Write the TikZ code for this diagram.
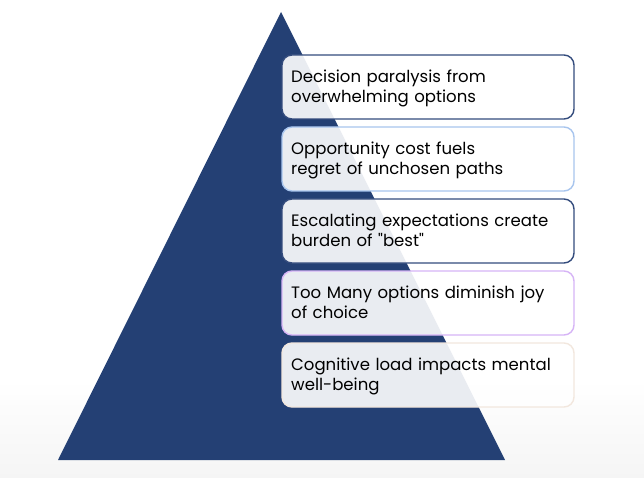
\documentclass[tikz,border=0pt]{standalone}
\usepackage{fontspec}
\setmainfont{Poppins}[Ligatures=TeXOff]
\usetikzlibrary{positioning}
\definecolor{navy}{RGB}{36,64,116}
\definecolor{bnavy}{RGB}{52,76,125}
\definecolor{blight}{RGB}{168,197,238}
\definecolor{blav}{RGB}{214,180,246}
\definecolor{bbeige}{RGB}{242,231,222}
\definecolor{bggray}{RGB}{245,245,245}
\tikzset{
  itembox/.style={draw=#1, line width=1.4bp, rounded corners=10bp, fill=white, fill opacity=0.9},
  itemtext/.style={anchor=base west, inner sep=0pt, text width=280bp, align=left, text=black,
    font=\fontsize{16.6}{20.5}\selectfont},
}
\begin{document}
\begin{tikzpicture}[x=1bp,y=-1bp]
\useasboundingbox (0,0) rectangle (644,478);
\shade[top color=white, bottom color=bggray] (0,380) rectangle (644,478);
\fill[white] (0,0) rectangle (644,380.5);
\fill[navy] (281,12) -- (505,460) -- (58,460) -- cycle;
\foreach \t/\c/\n [count=\i] in {55/bnavy/a,127/blight/b,199/bnavy/c,271/blav/d,343/bbeige/e}{
  \draw[itembox=\c] (282,\t) rectangle (574,\t+64);
}
\node[itemtext] (ta) at (291,82.5) {Decision paralysis from\\overwhelming options};
\node[itemtext] (tb) at (291,154.5) {Opportunity cost fuels\\regret of unchosen paths};
\node[itemtext] (tc) at (291,226.5) {Escalating expectations create\\burden of "best"};
\node[itemtext] (td) at (291,298.5) {Too Many options diminish joy\\of choice};
\node[itemtext] (te) at (291,370.5) {Cognitive load impacts mental\\well-being};
\end{tikzpicture}
\end{document}
